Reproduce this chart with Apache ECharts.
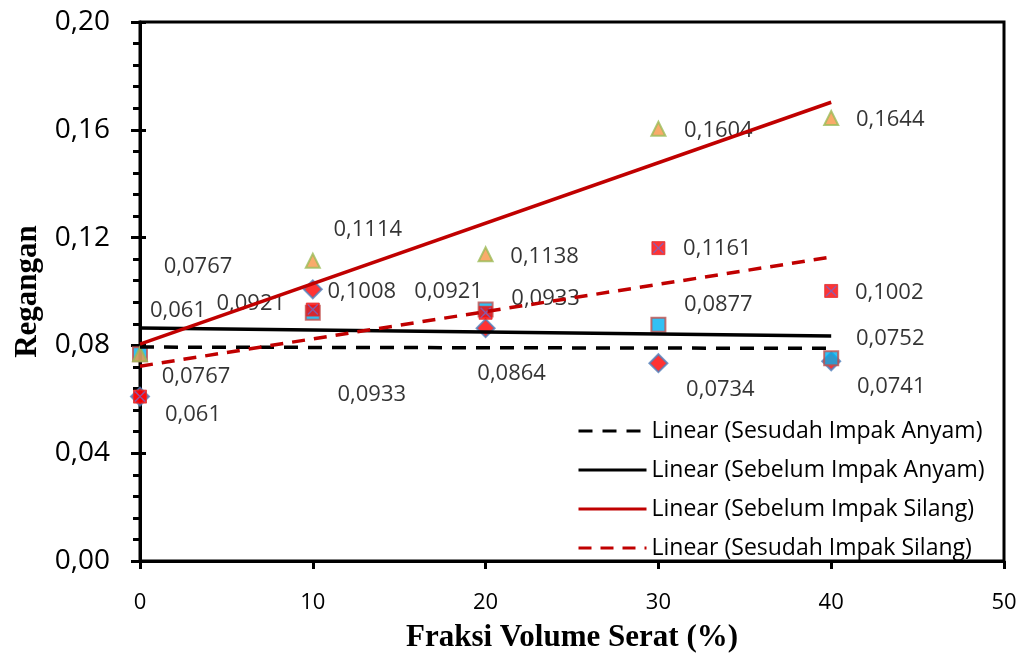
<!DOCTYPE html>
<html>
<head>
<meta charset="utf-8">
<script src="https://cdn.jsdelivr.net/npm/echarts@6/dist/echarts.min.js"></script>
<style>
  html, body { margin: 0; padding: 0; background: #fff; }
  #chart { width: 1023px; height: 658px; }
</style>
</head>
<body>
<div id="chart"></div>
<script>
// Fiber volume fraction (%)
const fraksiSerat = [0, 10, 20, 30, 40];

// Strain values per test condition
const sesudahImpakAnyam  = [0.061, 0.1008, 0.0864, 0.0734, 0.0741];
const sebelumImpakAnyam  = [0.0767, 0.0921, 0.0933, 0.0877, 0.0752];
const sebelumImpakSilang = [0.0767, 0.1114, 0.1138, 0.1604, 0.1644];
const sesudahImpakSilang = [0.061, 0.0933, 0.0921, 0.1161, 0.1002];

// Axis ranges
const xRange = { min: 0, max: 50, step: 10 };
const yRange = { min: 0, max: 0.20, step: 0.04 };

// Data label placement (pixel offsets from each marker)
const offsSesudahAnyam  = [[53, 18], [49, 2], [26, 46], [62, 27], [60, 25]];
const offsSebelumAnyam  = [[56, 22], [-62, -9], [60, -11], [60, -20], [59, -20]];
const offsSebelumSilang = [[58, -88], [55, -31], [59, 2], [60, 2], [59, 2]];
const offsSesudahSilang = [[38, -86], [59, 85], [-37, -21], [59, 1], [58, 2]];

const FONT = '"Open Sans", "Noto Sans", sans-serif';
const SERIF = '"Liberation Serif", "DejaVu Serif", serif';

function pairs(ys) {
  return ys.map((y, i) => [fraksiSerat[i], y]);
}

// Least-squares linear trend over the fiber fractions
function linearTrend(ys) {
  const n = ys.length;
  const mx = fraksiSerat.reduce((a, b) => a + b, 0) / n;
  const my = ys.reduce((a, b) => a + b, 0) / n;
  let sxy = 0, sxx = 0;
  for (let i = 0; i < n; i++) {
    sxy += (fraksiSerat[i] - mx) * (ys[i] - my);
    sxx += (fraksiSerat[i] - mx) * (fraksiSerat[i] - mx);
  }
  const slope = sxy / sxx;
  const icpt = my - slope * mx;
  const x0 = fraksiSerat[0], x1 = fraksiSerat[n - 1];
  return [[x0, icpt + slope * x0], [x1, icpt + slope * x1]];
}

function fmt(v) {
  return String(v).replace('.', ',');
}

function labelled(ys, offs) {
  return ys.map((y, i) => ({
    value: [fraksiSerat[i], y],
    label: { offset: offs[i] }
  }));
}

const dataLabel = {
  show: true,
  position: 'inside',
  color: '#000',
  fontFamily: FONT,
  fontSize: 22,
  formatter: p => fmt(p.value[1])
};

const crossPath = 'path://M0,9 L9,0 L50,41 L91,0 L100,9 L59,50 L100,91 L91,100 L50,59 L9,100 L0,91 L41,50 Z';

const chart = echarts.init(document.getElementById('chart'), null, { renderer: 'canvas' });

chart.setOption({
  animation: false,
  backgroundColor: '#fff',
  grid: {
    left: 140, right: 19, top: 22, bottom: 95,
    show: true, borderColor: '#000', borderWidth: 3,
    containLabel: false
  },
  legend: {
    orient: 'vertical',
    left: 572, top: 412,
    itemWidth: 68, itemHeight: 14, itemGap: 11,
    itemStyle: { opacity: 0 },
    lineStyle: { width: 3 },
    textStyle: { fontFamily: FONT, fontSize: 23, color: '#000', lineHeight: 28, padding: [0, 0, 0, 0] },
    data: [
      'Linear (Sesudah Impak Anyam)',
      'Linear (Sebelum Impak Anyam)',
      'Linear (Sebelum Impak Silang)',
      'Linear (Sesudah Impak Silang)'
    ]
  },
  xAxis: {
    type: 'value',
    min: xRange.min, max: xRange.max, interval: xRange.step,
    name: 'Fraksi Volume Serat (%)',
    nameLocation: 'middle', nameGap: 61,
    nameTextStyle: { fontFamily: SERIF, fontWeight: 'bold', fontSize: 31, color: '#000' },
    axisLine: { show: true, lineStyle: { color: '#000', width: 3 } },
    axisTick: { show: true, inside: false, length: 8, lineStyle: { color: '#000', width: 3 } },
    axisLabel: { fontFamily: FONT, fontSize: 22, color: '#000', margin: 31 },
    splitLine: { show: false }
  },
  yAxis: [{
    type: 'value',
    min: yRange.min, max: yRange.max, interval: yRange.step,
    name: 'Regangan',
    nameLocation: 'middle', nameGap: 96, nameRotate: 90,
    nameTextStyle: { fontFamily: SERIF, fontWeight: 'bold', fontSize: 31, color: '#000' },
    axisLine: { show: true, lineStyle: { color: '#000', width: 3 } },
    axisTick: { show: true, inside: false, length: 9, lineStyle: { color: '#000', width: 3 } },
    minorTick: { show: true, splitNumber: 5, length: 7, lineStyle: { color: '#000', width: 3 } },
    axisLabel: { fontFamily: FONT, fontSize: 28, color: '#000', margin: 30, formatter: v => v.toFixed(2).replace('.', ',') },
    splitLine: { show: false }
  }, {
    // inner half of the major ticks
    type: 'value',
    min: yRange.min, max: yRange.max, interval: yRange.step,
    position: 'left',
    axisLine: { show: false },
    axisTick: { show: true, inside: true, length: 6, lineStyle: { color: '#000', width: 3 } },
    axisLabel: { show: false },
    splitLine: { show: false }
  }],
  series: [
    {
      name: 'Sesudah Impak Anyam',
      type: 'scatter', z: 2,
      symbol: 'diamond', symbolSize: 18,
      itemStyle: { color: '#FF0000', borderColor: '#4F81BD', borderWidth: 2 },
      label: dataLabel,
      data: labelled(sesudahImpakAnyam, offsSesudahAnyam)
    },
    {
      name: 'Sebelum Impak Anyam',
      type: 'scatter', z: 3,
      symbol: 'rect', symbolSize: 14,
      itemStyle: { color: '#00B0F0', borderColor: '#C0504D', borderWidth: 2 },
      label: dataLabel,
      data: labelled(sebelumImpakAnyam, offsSebelumAnyam)
    },
    {
      name: 'Sebelum Impak Silang',
      type: 'scatter', z: 4,
      symbol: 'triangle', symbolSize: 14,
      itemStyle: { color: '#F79646', borderColor: '#9BBB59', borderWidth: 2 },
      label: dataLabel,
      data: labelled(sebelumImpakSilang, offsSebelumSilang)
    },
    {
      name: 'Sesudah Impak Silang',
      type: 'scatter', z: 5,
      symbol: 'rect', symbolSize: 13,
      itemStyle: { color: '#FF0000', borderColor: '#E03030', borderWidth: 1 },
      label: dataLabel,
      data: labelled(sesudahImpakSilang, offsSesudahSilang)
    },
    {
      name: 'Sesudah Impak Silang',
      type: 'scatter', z: 6,
      symbol: crossPath, symbolSize: 11,
      itemStyle: { color: '#7566C4' },
      data: pairs(sesudahImpakSilang)
    },
    {
      name: 'Linear (Sesudah Impak Anyam)',
      type: 'line', z: 7, symbol: 'none',
      lineStyle: { color: '#000', width: 3.5, type: [14, 10] },
      data: linearTrend(sesudahImpakAnyam)
    },
    {
      name: 'Linear (Sebelum Impak Anyam)',
      type: 'line', z: 7, symbol: 'none',
      lineStyle: { color: '#000', width: 3.5, type: 'solid' },
      data: linearTrend(sebelumImpakAnyam)
    },
    {
      name: 'Linear (Sebelum Impak Silang)',
      type: 'line', z: 7, symbol: 'none',
      lineStyle: { color: '#C00000', width: 3.5, type: 'solid' },
      data: linearTrend(sebelumImpakSilang)
    },
    {
      name: 'Linear (Sesudah Impak Silang)',
      type: 'line', z: 7, symbol: 'none',
      lineStyle: { color: '#C00000', width: 3.5, type: [13, 9] },
      data: linearTrend(sesudahImpakSilang)
    }
  ]
});
</script>
</body>
</html>
